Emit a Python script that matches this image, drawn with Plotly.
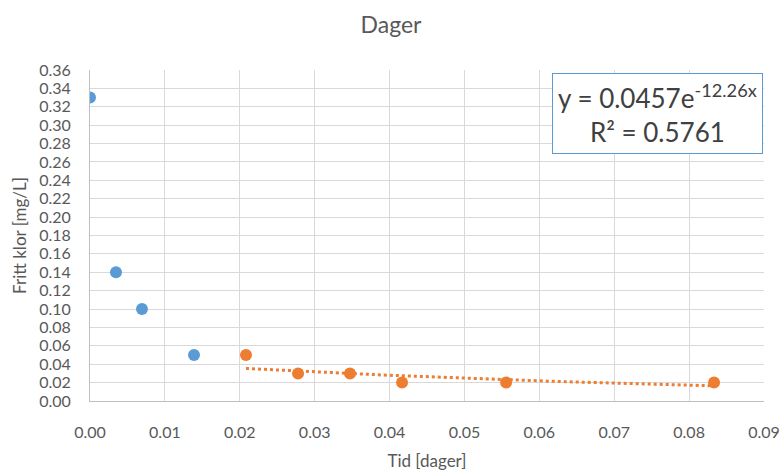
import numpy as np
import plotly.graph_objects as go

# Data
blue_x = [0.0, 0.00347, 0.00694, 0.01389]
blue_y = [0.33, 0.14, 0.10, 0.05]
orange_x = [0.02083, 0.02778, 0.03472, 0.04167, 0.05556, 0.08333]
orange_y = [0.05, 0.03, 0.03, 0.02, 0.02, 0.02]
fit_a = 0.0457
fit_b = -12.26
r2 = 0.5761
x_ticks = [round(0.01 * i, 2) for i in range(10)]
y_ticks = [round(0.02 * i, 2) for i in range(19)]

fit_x = np.linspace(min(orange_x), max(orange_x), 60)
fit_y = fit_a * np.exp(fit_b * fit_x)

font_family = "Lato, 'Open Sans', sans-serif"
grey = "#595959"

fig = go.Figure()
fig.add_trace(go.Scatter(x=fit_x, y=fit_y, mode="lines",
                         line=dict(color="#ED7D31", width=3, dash="dot"),
                         showlegend=False, hoverinfo="skip"))
fig.add_trace(go.Scatter(x=blue_x, y=blue_y, mode="markers",
                         marker=dict(color="#5B9BD5", size=12), showlegend=False))
fig.add_trace(go.Scatter(x=orange_x, y=orange_y, mode="markers",
                         marker=dict(color="#ED7D31", size=12), showlegend=False))

fig.update_layout(
    width=782, height=471,
    margin=dict(l=90, r=18, t=70, b=70, autoexpand=False),
    paper_bgcolor="white", plot_bgcolor="white",
    font=dict(family=font_family, color=grey, size=16),
    title=dict(text="Dager", x=0.5, xanchor="center", y=0.947, yanchor="middle",
               font=dict(size=23, color=grey, family=font_family)),
    xaxis=dict(range=[0, 0.09], tickvals=x_ticks, tickformat=".2f", automargin=False,
               showgrid=True, gridcolor="#D9D9D9", gridwidth=1,
               showline=True, linecolor="#BFBFBF", linewidth=1,
               zeroline=False, ticks="outside", ticklen=17, tickcolor="rgba(0,0,0,0)",
               title=dict(text="Tid [dager]", font=dict(size=17, color=grey), standoff=16),
               tickfont=dict(size=16, color=grey)),
    yaxis=dict(range=[0, 0.36], tickvals=y_ticks, tickformat=".2f", automargin=False,
               showgrid=True, gridcolor="#D9D9D9", gridwidth=1,
               showline=True, linecolor="#BFBFBF", linewidth=1,
               zeroline=False, ticks="outside", ticklen=15, tickcolor="rgba(0,0,0,0)",
               title=dict(text="Fritt klor [mg/L]", font=dict(size=17, color=grey), standoff=8),
               tickfont=dict(size=16, color=grey)),
)

fig.add_annotation(
    xref="paper", yref="paper", x=0.9985, y=0.991, xanchor="right", yanchor="top",
    text=f"y = {fit_a}e<sup>{fit_b}x</sup><br>R² = {r2}",
    showarrow=False, align="center",
    font=dict(size=26, color="#404040", family=font_family),
    bordercolor="#5B9BD5", borderwidth=1, borderpad=5, bgcolor="white",
)

fig.write_html("out.html")
